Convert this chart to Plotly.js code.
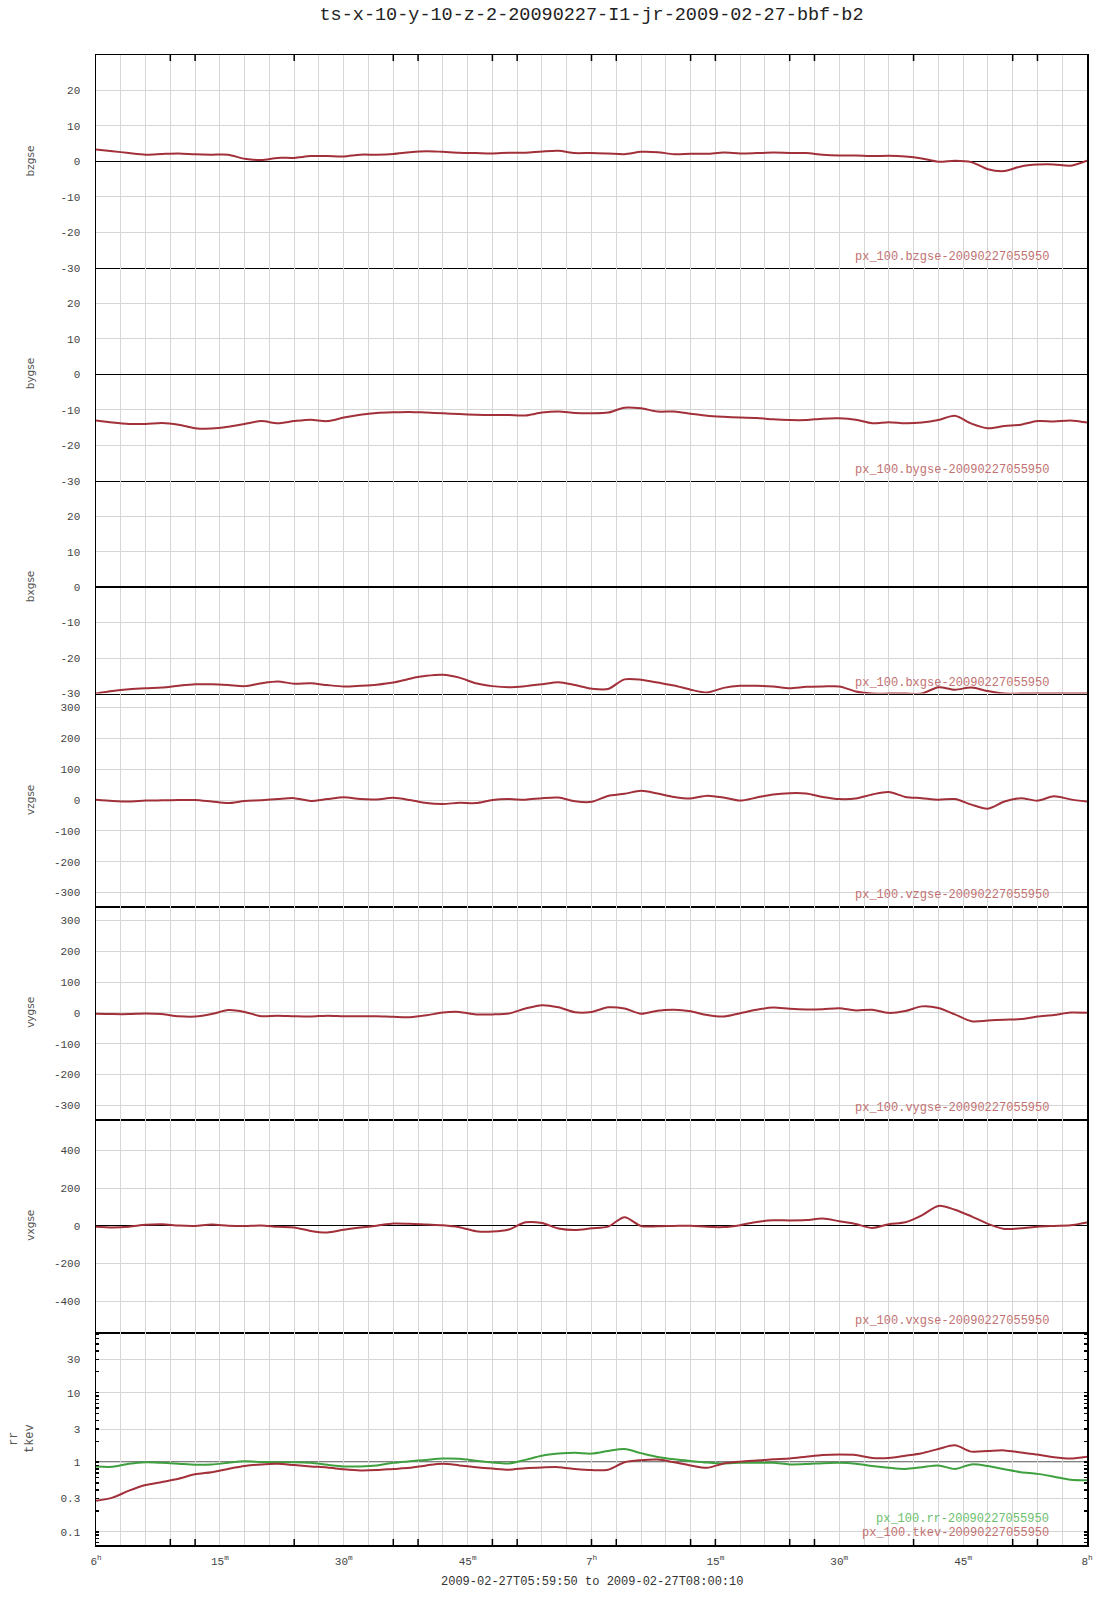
<!DOCTYPE html>
<html>
<head>
<meta charset="utf-8">
<script src="https://cdn.plot.ly/plotly-3.0.1.min.js"></script>
<style>html,body{margin:0;padding:0;background:#fff}</style>
</head>
<body>
<div id="chart" style="width:1107px;height:1600px"></div>
<script>
// ---- data (minutes after 2009-02-27 06:00 UT) ----
const minutes = [0,2,4,6,8,10,12,14,16,18,20,22,24,26,28,30,32,34,36,38,40,42,44,46,48,50,52,54,56,58,60,62,64,66,68,70,72,74,76,78,80,82,84,86,88,90,92,94,96,98,100,102,104,106,108,110,112,114,116,118,120];

const bzgse = [3.4,2.9,2.35,1.9,2.1,2.25,2.0,1.9,1.9,0.75,0.4,1.0,1.0,1.5,1.5,1.4,1.9,1.9,2.1,2.6,2.9,2.7,2.45,2.35,2.25,2.45,2.45,2.8,3.0,2.35,2.4,2.25,2.05,2.7,2.6,2.05,2.15,2.15,2.5,2.25,2.35,2.5,2.4,2.35,1.9,1.7,1.7,1.5,1.6,1.4,0.85,-0.1,0.2,-0.2,-2.2,-2.7,-1.4,-0.9,-0.85,-1.2,0.2];
const bygse = [-13.0,-13.6,-14.0,-14.0,-13.7,-14.2,-15.2,-15.3,-14.8,-14.0,-13.2,-13.8,-13.2,-12.8,-13.2,-12.2,-11.4,-10.9,-10.7,-10.6,-10.8,-11.0,-11.2,-11.4,-11.5,-11.5,-11.6,-10.8,-10.5,-10.9,-11.0,-10.8,-9.4,-9.6,-10.5,-10.5,-11.1,-11.7,-12.0,-12.2,-12.3,-12.7,-12.9,-12.9,-12.5,-12.4,-12.8,-13.8,-13.5,-13.8,-13.6,-12.9,-11.7,-13.9,-15.2,-14.6,-14.2,-13.2,-13.3,-13.0,-13.6];
const bxgse = [-30,-29.3,-28.8,-28.5,-28.3,-27.8,-27.4,-27.4,-27.6,-27.9,-27.1,-26.6,-27.2,-27.1,-27.6,-28.0,-27.8,-27.5,-26.9,-25.8,-25.0,-24.7,-25.5,-27.1,-27.9,-28.2,-27.9,-27.4,-26.8,-27.6,-28.6,-28.7,-26.0,-26.1,-26.9,-27.7,-28.9,-29.7,-28.4,-27.8,-27.8,-28.0,-28.5,-28.1,-28.0,-28.0,-29.4,-30,-30,-30,-30,-28.2,-28.9,-28.3,-29.3,-30,-30,-30,-30,-30,-30];
const vzgse = [1,-3,-5,-2,-1,0,0,-5,-10,-3,-1,3,6,-3,3,9,3,2,7,0,-10,-13,-9,-10,0,3,1,6,8,-4,-6,13,20,30,21,10,5,14,8,-2,8,18,22,21,10,3,5,18,26,10,6,1,3,-15,-28,-5,6,-2,12,2,-5];
const vygse = [-3,-4,-4,-2,-4,-11,-12,-4,9,3,-11,-9,-11,-12,-9,-11,-11,-11,-13,-14,-8,1,3,-5,-5,-2,14,25,18,2,3,18,14,-3,7,10,5,-7,-12,-1,10,17,13,11,12,15,8,10,0,6,21,16,-5,-27,-25,-22,-20,-12,-7,1,0];
const vxgse = [-5,-9,-5,5,8,1,-1,6,0,-2,1,-6,-9,-28,-36,-22,-10,0,12,10,6,2,-8,-29,-31,-20,18,14,-15,-23,-14,-5,45,-2,-3,-1,0,-6,-7,3,20,29,28,30,38,24,9,-12,8,18,55,105,85,50,10,-17,-14,-5,-1,2,17];
const tkev = [0.28,0.31,0.39,0.47,0.52,0.58,0.67,0.72,0.8,0.88,0.93,0.95,0.91,0.87,0.84,0.79,0.76,0.77,0.8,0.83,0.9,0.95,0.9,0.85,0.81,0.78,0.82,0.84,0.85,0.8,0.77,0.78,1.0,1.07,1.09,1.0,0.9,0.83,0.96,1.02,1.06,1.1,1.13,1.2,1.27,1.29,1.27,1.15,1.15,1.24,1.35,1.55,1.75,1.42,1.45,1.48,1.38,1.29,1.18,1.13,1.2];
const rr = [0.87,0.86,0.95,1.0,0.98,0.95,0.92,0.93,0.98,1.03,1.01,1.0,1.0,0.98,0.92,0.87,0.87,0.9,0.98,1.03,1.08,1.13,1.12,1.05,0.99,0.96,1.08,1.24,1.33,1.37,1.33,1.45,1.55,1.35,1.19,1.1,1.04,0.99,0.96,0.98,0.98,0.98,0.93,0.94,0.97,0.98,0.95,0.88,0.83,0.8,0.85,0.9,0.8,0.93,0.88,0.79,0.72,0.68,0.62,0.56,0.55];

// ---- tick labels ----
const xLabelMinutes = [0,15,30,45,60,75,90,105,120];
const xLabelText = ['6<sup>h</sup>','15<sup>m</sup>','30<sup>m</sup>','45<sup>m</sup>','7<sup>h</sup>','15<sup>m</sup>','30<sup>m</sup>','45<sup>m</sup>','8<sup>h</sup>'];
const xMarkMinutes = [9,12,24,36,39,48,51,60,63,72,75,84,87,99,111,114];
const panelNames = ['bzgse','bygse','bxgse','vzgse','vygse','vxgse'];
const bTicks = [-30,-20,-10,0,10,20];
const vTicks = [-300,-200,-100,0,100,200,300];
const vxTicks = [-400,-200,0,200,400];
const logTicks = [0.1,0.3,1,3,10,30];
const legendNames = ['px_100.bzgse-20090227055950','px_100.bygse-20090227055950','px_100.bxgse-20090227055950','px_100.vzgse-20090227055950','px_100.vygse-20090227055950','px_100.vxgse-20090227055950'];
const rrName = 'px_100.rr-20090227055950';
const tkevName = 'px_100.tkev-20090227055950';

// ---- helpers ----
const T0 = Date.UTC(2009,1,27,6,0,0);
function tx(m){ return new Date(T0 + m*60000).toISOString().slice(0,19).replace('T',' '); }
const xs = minutes.map(tx);

const RED = '#a2303a', GREEN = '#3fa03f';
const LEG_RED = '#c27272', LEG_GREEN = '#6cc06c';
const MONO = 'Liberation Mono, DejaVu Sans Mono, monospace';
const tickFont = {family: MONO, size: 11, color: '#444'};
const GRID = '#d6d6d6';

const N = 7;
function dom(k){ return [1 - k/N, 1 - (k-1)/N]; }
const ySeries = [bzgse, bygse, bxgse, vzgse, vygse, vxgse];
const yRanges = [[-30,30],[-30,30],[-30,30],[-345,345],[-345,345],[-565,565]];
const yTickSets = [bTicks,bTicks,bTicks,vTicks,vTicks,vxTicks];
const zeroShown = [true,true,true,false,false,true];
const logRange = [-1.19, 1.87];

const data = [];
const layout = {
  width: 1107, height: 1600,
  margin: {l: 96, r: 20, t: 55, b: 55},
  paper_bgcolor: '#fff', plot_bgcolor: '#fff',
  showlegend: false,
  title: {text: 'ts-x-10-y-10-z-2-20090227-I1-jr-2009-02-27-bbf-b2',
          font: {family: MONO, size: 18.5, color: '#222'},
          x: 0.5, xref: 'paper', xanchor: 'center', y: 1 - 14/1600, yref: 'container', yanchor: 'middle'},
  annotations: [], shapes: []
};

function xAxis(k){
  return {
    domain: [0,1], anchor: k === 1 ? 'y' : 'y' + k, type: 'date',
    range: [tx(0), tx(120)], tickmode: 'array',
    tickvals: xLabelMinutes.map(tx), ticktext: xLabelText,
    showticklabels: k === N, ticks: '', showgrid: true, gridcolor: GRID, gridwidth: 1,
    minor: {tick0: tx(0), dtick: 180000, showgrid: true, gridcolor: GRID, gridwidth: 1, ticks: ''},
    showline: true, mirror: k === 1, linecolor: '#000', linewidth: 1.5, zeroline: false,
    tickfont: tickFont, ticklabelstandoff: 5
  };
}
function yAxisBase(k){
  return {
    domain: dom(k), anchor: k === 1 ? 'x' : 'x' + k,
    tickmode: 'array', ticks: '', showgrid: true, gridcolor: GRID, gridwidth: 1,
    showline: true, mirror: true, linecolor: '#000', linewidth: 1.5,
    tickfont: tickFont, ticklabelstandoff: 12
  };
}

for (let k = 1; k <= 6; k++) {
  const xa = k === 1 ? 'x' : 'x' + k, ya = k === 1 ? 'y' : 'y' + k;
  data.push({type: 'scatter', mode: 'lines', x: xs, y: ySeries[k-1], xaxis: xa, yaxis: ya,
             line: {color: RED, width: 2, shape: 'spline', smoothing: 0.8}, hoverinfo: 'skip'});
  layout['xaxis' + (k === 1 ? '' : k)] = xAxis(k);
  const yax = yAxisBase(k);
  yax.range = yRanges[k-1];
  yax.tickvals = yTickSets[k-1];
  yax.ticktext = yTickSets[k-1].map(String);
  yax.zeroline = zeroShown[k-1];
  yax.zerolinecolor = '#000';
  yax.zerolinewidth = 1.5;
  layout['yaxis' + (k === 1 ? '' : k)] = yax;
  layout.annotations.push({text: panelNames[k-1], xref: 'paper', x: -66/991, xanchor: 'center',
    yref: ya + ' domain', y: 0.5, yanchor: 'middle', textangle: -90, showarrow: false,
    font: {family: 'DejaVu Sans, sans-serif', size: 10.5, color: '#555'}});
  layout.annotations.push({text: legendNames[k-1], xref: 'paper', x: (1051-96)/991, xanchor: 'right',
    yref: ya + ' domain', y: 0, yanchor: 'middle', yshift: 11, showarrow: false,
    font: {family: MONO, size: 12, color: LEG_RED}});
}

// bottom log panel
data.push({type: 'scatter', mode: 'lines', x: xs, y: rr, xaxis: 'x7', yaxis: 'y7',
           line: {color: GREEN, width: 2, shape: 'spline', smoothing: 0.8}, hoverinfo: 'skip'});
data.push({type: 'scatter', mode: 'lines', x: xs, y: tkev, xaxis: 'x7', yaxis: 'y7',
           line: {color: RED, width: 2, shape: 'spline', smoothing: 0.8}, hoverinfo: 'skip'});
layout.xaxis7 = xAxis(7);
const y7 = yAxisBase(7);
y7.type = 'log'; y7.range = logRange; y7.tickvals = logTicks; y7.ticktext = logTicks.map(String);
y7.zeroline = false;
y7.mirror = 'allticks';
y7.minor = {dtick: 'D1', ticks: 'inside', ticklen: 3, tickwidth: 1.5, tickcolor: '#000', showgrid: false};
layout.yaxis7 = y7;
const oneFrac = (0 - logRange[0])/(logRange[1]-logRange[0]);
layout.shapes.push({type: 'line', xref: 'paper', x0: 0, x1: 1, yref: 'y7 domain',
  y0: oneFrac, y1: oneFrac, line: {color: '#000', width: 1.5}, layer: 'between'});
layout.annotations.push({text: 'rr<br>tkev', xref: 'paper', x: -74.5/991, xanchor: 'center',
  yref: 'y7 domain', y: 0.5, yanchor: 'middle', textangle: -90, showarrow: false,
  font: {family: MONO, size: 12, color: '#555'}});
layout.annotations.push({text: rrName, xref: 'paper', x: (1051-96)/991, xanchor: 'right',
  yref: 'y7 domain', y: 0, yanchor: 'middle', yshift: 26, showarrow: false,
  font: {family: MONO, size: 12, color: LEG_GREEN}});
layout.annotations.push({text: tkevName, xref: 'paper', x: (1051-96)/991, xanchor: 'right',
  yref: 'y7 domain', y: 0, yanchor: 'middle', yshift: 12, showarrow: false,
  font: {family: MONO, size: 12, color: LEG_RED}});
layout.annotations.push({text: '2009-02-27T05:59:50 to 2009-02-27T08:00:10', xref: 'paper', x: 0.5,
  xanchor: 'center', yref: 'paper', y: 0, yanchor: 'middle', yshift: -37, showarrow: false,
  font: {family: MONO, size: 12, color: '#333'}});

// small inside tick marks along the bottom of the last panel and the top of the first
const tickFrac = 6 / (1490 / N);
xMarkMinutes.forEach(m => {
  layout.shapes.push({type: 'line', xref: 'x7', x0: tx(m), x1: tx(m), yref: 'y7 domain',
    y0: 0, y1: tickFrac, line: {color: '#000', width: 1.5}, layer: 'above'});
  layout.shapes.push({type: 'line', xref: 'x', x0: tx(m), x1: tx(m), yref: 'y domain',
    y0: 1 - tickFrac, y1: 1, line: {color: '#000', width: 1.5}, layer: 'above'});
});

Plotly.newPlot('chart', data, layout, {staticPlot: true});
</script>
</body>
</html>
